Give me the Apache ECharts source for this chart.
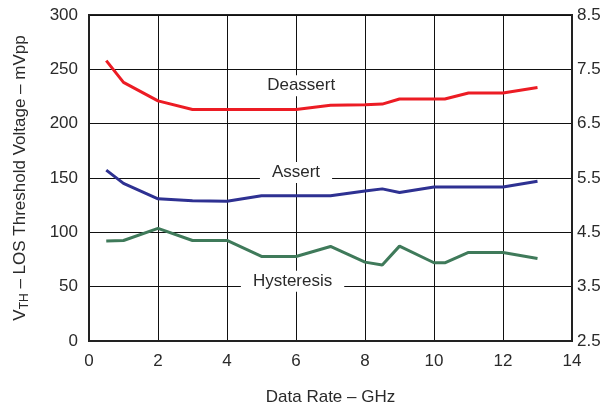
<!DOCTYPE html>
<html>
<head>
<meta charset="utf-8">
<script src="https://cdn.jsdelivr.net/npm/echarts@6/dist/echarts.min.js"></script>
<style>html,body{margin:0;padding:0;background:#fff}#c{width:609px;height:413px}</style>
</head>
<body>
<div id="c"></div>
<script>
const dataRate = [0.5, 1, 2, 3, 4, 5, 6, 7, 8, 8.5, 9, 10, 10.3125, 11, 12, 13];
const deassert = [258, 238, 221, 213, 213, 213, 213, 217, 217.5, 218, 222.7, 222.7, 222.7, 228.2, 228.2, 233.2];
const assert_ = [157.2, 145, 130.8, 129, 128.7, 133.6, 133.6, 133.6, 138, 140, 136.6, 141.8, 141.8, 141.8, 141.8, 147];
const hysteresis = [92, 92.5, 103.6, 92.5, 92.5, 77.8, 77.8, 87, 72.6, 69.9, 87.3, 72, 72, 81.5, 81.5, 76];
const leftTicks = [0, 300, 50];
const rightTicks = [2.5, 8.5, 1];
const xTicks = [0, 14, 2];
const seriesNames = ['Deassert', 'Assert', 'Hysteresis'];
const labelAnchors = { Deassert: [6.15, 235], Assert: [6.0, 155], Hysteresis: [5.9, 55] };
const colors = ['#ec1c24', '#2e3192', '#3f7a5a'];
const values = [deassert, assert_, hysteresis];

const FONT = 'Liberation Sans, Arial, sans-serif';
const FS = 17;
const TXT = '#2a2a2a';
const chart = echarts.init(document.getElementById('c'), null, { renderer: 'canvas' });

const series = seriesNames.map((name, i) => ({
  name,
  type: 'line',
  yAxisIndex: 0,
  symbol: 'none',
  data: dataRate.map((x, j) => [x, values[i][j]]),
  lineStyle: { color: colors[i], width: 3 },
  z: 3,
  markPoint: {
    symbol: 'circle',
    symbolSize: 0,
    silent: true,
    data: [{ coord: labelAnchors[name] }],
    label: {
      show: true,
      position: 'inside',
      formatter: name,
      fontFamily: FONT,
      fontSize: FS,
      color: TXT,
      backgroundColor: '#fff',
      padding: [2, 12, 2, 12]
    }
  }
}));

chart.setOption({
  animation: false,
  backgroundColor: '#fff',
  grid: { left: 89, right: 37, top: 15, bottom: 72, show: true, borderColor: '#222', borderWidth: 2, containLabel: false },
  xAxis: {
    type: 'value',
    min: xTicks[0], max: xTicks[1], interval: xTicks[2],
    name: 'Data Rate – GHz',
    nameLocation: 'middle',
    nameGap: 48,
    nameTextStyle: { fontFamily: FONT, fontSize: FS, color: TXT },
    axisLine: { show: true, lineStyle: { color: '#222', width: 2 } },
    axisTick: { show: false },
    axisLabel: { fontFamily: FONT, fontSize: FS, color: TXT, margin: 12 },
    splitLine: { show: true, lineStyle: { color: '#111', width: 1 } }
  },
  yAxis: [{
    type: 'value',
    min: leftTicks[0], max: leftTicks[1], interval: leftTicks[2],
    name: '{v|V}{s|TH}{v| – LOS Threshold Voltage – mVpp}',
    nameLocation: 'middle',
    nameGap: 58,
    nameRotate: 90,
    nameTextStyle: {
      rich: {
        v: { fontFamily: FONT, fontSize: FS, color: TXT, lineHeight: 22 },
        s: { fontFamily: FONT, fontSize: 12, color: TXT, verticalAlign: 'bottom', padding: [7, 0, 0, 0] }
      }
    },
    axisLine: { show: true, lineStyle: { color: '#222', width: 2 } },
    axisTick: { show: false },
    axisLabel: { fontFamily: FONT, fontSize: FS, color: TXT, margin: 11 },
    splitLine: { show: true, lineStyle: { color: '#111', width: 1 } }
  }, {
    type: 'value',
    position: 'right',
    min: rightTicks[0], max: rightTicks[1], interval: rightTicks[2],
    axisLine: { show: true, lineStyle: { color: '#222', width: 2 } },
    axisTick: { show: false },
    axisLabel: { fontFamily: FONT, fontSize: FS, color: TXT, margin: 5, formatter: v => v.toFixed(1) },
    splitLine: { show: false }
  }],
  series
});
</script>
</body>
</html>
